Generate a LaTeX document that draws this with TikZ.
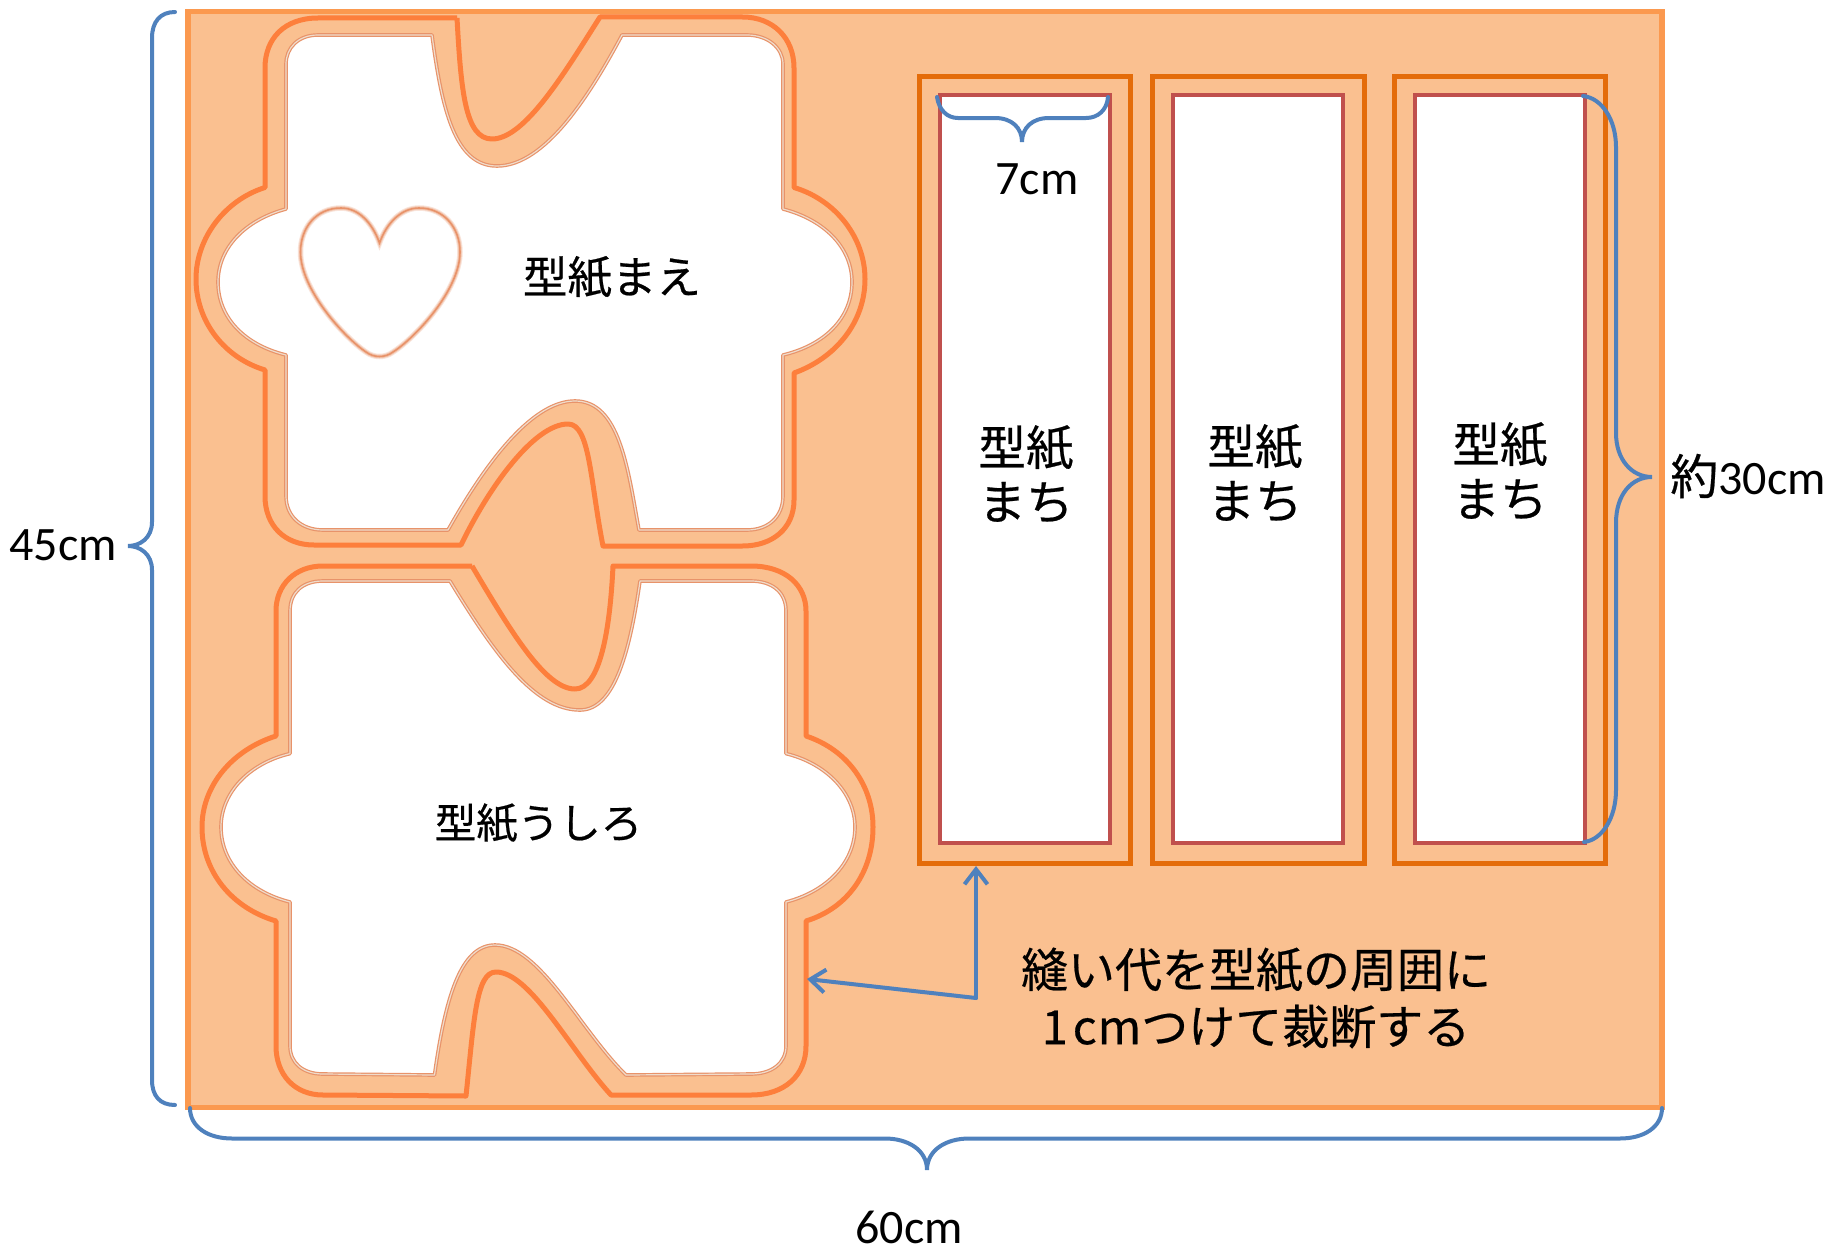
\documentclass[tikz,border=0pt]{standalone}
\usepackage{fontspec}
\setmainfont{Carlito}
\newfontfamily\jp[FakeBold=0.45]{Noto Sans CJK JP}
\usetikzlibrary{arrows.meta}
\definecolor{sheet}{HTML}{FAC090}
\definecolor{sheetline}{HTML}{FB994F}
\definecolor{cutline}{HTML}{FD7F3C}
\definecolor{darkcut}{HTML}{E46C0A}
\definecolor{pattern}{HTML}{C0504D}
\definecolor{brace}{HTML}{4F81BD}
\definecolor{softline}{HTML}{E8936A}
\definecolor{softcore}{HTML}{EFDCCB}
\tikzset{
  x=1pt,y=-1pt,
  cutpath/.style={draw=cutline,line width=5pt,line join=round},
  patpath/.style={draw=softline,line width=3.6pt,fill=white,line join=round},
  patcore/.style={draw=softcore,line width=1.2pt,line join=round},
  bracepath/.style={draw=brace,line width=4pt,line cap=round},
  callout/.style={draw=brace,line width=4pt,line cap=round,-{Straight Barb[length=15pt,width=23pt,line width=4pt]}},
  stripout/.style={draw=darkcut,line width=5pt,fill=sheet,minimum width=#1,minimum height=786pt,inner sep=0pt,outer sep=0pt,anchor=north west},
  stripin/.style={draw=pattern,line width=4pt,fill=white,minimum width=#1,minimum height=748pt,inner sep=0pt,outer sep=0pt,anchor=north west},
  lab/.style={font=\jp\fontsize{47}{47}\selectfont,inner sep=0pt,text=black},
  dim/.style={font=\fontsize{48}{48}\selectfont,inner sep=0pt,text=black},
}
\newcommand{\frontcut}{(457,18) -- (318,18) .. controls (285,18) and (265,38) .. (265,68) -- (265,187.5)
 .. controls (225,200) and (196,238) .. (196,279) .. controls (196,322) and (225,358) .. (265,370)
 -- (265,496) .. controls (265,526) and (285,545) .. (314,545) -- (461,545)
 .. controls (490,485) and (535,424) .. (568,424) .. controls (590,424) and (590,480) .. (603,546)
 -- (742.5,546) .. controls (773,546) and (794,528) .. (794,500) -- (794,373)
 .. controls (836,358) and (865,322) .. (865,279) .. controls (865,238) and (836,200) .. (794,187.5)
 -- (794,68) .. controls (794,38) and (773,17) .. (742.5,17) -- (600,17)
 .. controls (565,72) and (525,139) .. (492,139) .. controls (465,139) and (461,90) .. (457,18)}
\newcommand{\frontpat}{(432,35) -- (318,35) .. controls (298,35) and (286,48) .. (286,64) -- (286,209)
 .. controls (245,220) and (218,248) .. (218,282) .. controls (218,318) and (245,345) .. (286,355)
 -- (286,496) .. controls (286,517) and (302,530) .. (323,530) -- (448,530)
 .. controls (490,455) and (535,401) .. (575,401) .. controls (620,401) and (628,470) .. (639,530)
 -- (747,530) .. controls (768,530) and (783,517) .. (783,496) -- (783,355)
 .. controls (825,345) and (852,318) .. (852,282) .. controls (852,248) and (825,220) .. (783,209)
 -- (783,64) .. controls (783,48) and (768,35) .. (747,35) -- (622,35)
 .. controls (590,95) and (545,166) .. (497,166) .. controls (455,166) and (442,110) .. (432,35) -- cycle}
\newcommand{\backcut}{(472,566) -- (323,566) .. controls (295,566) and (276,585) .. (276,611) -- (276,736)
 .. controls (232,750) and (202,786) .. (202,827) .. controls (202,872) and (232,908) .. (276,921)
 -- (276,1046) .. controls (276,1075) and (295,1095) .. (323,1095) -- (466,1096)
 .. controls (474,1020) and (476,972) .. (496,972) .. controls (530,972) and (570,1050) .. (611,1095)
 -- (751,1095) .. controls (785,1095) and (806,1075) .. (806,1046) -- (806,921)
 .. controls (848,908) and (873,872) .. (873,827) .. controls (873,786) and (848,750) .. (806,736)
 -- (806,611) .. controls (806,585) and (785,566) .. (751,566) -- (613,566)
 .. controls (610,630) and (600,689) .. (575,689) .. controls (545,689) and (510,630) .. (472,566)}
\newcommand{\backpat}{(450,581) -- (323,581) .. controls (303,581) and (290,592) .. (290,611) -- (290,753.6)
 .. controls (250,763) and (221,792) .. (221,827) .. controls (221,864) and (250,892) .. (290,902)
 -- (290,1046) .. controls (290,1063) and (303,1074) .. (323,1074) -- (434.5,1075)
 .. controls (445,1000) and (460,945) .. (495,945) .. controls (540,945) and (580,1030) .. (626,1075)
 -- (751,1074) .. controls (772,1074) and (786,1063) .. (786,1046) -- (786,902)
 .. controls (825,892) and (855,864) .. (855,827) .. controls (855,792) and (825,763) .. (786,753.6)
 -- (786,611) .. controls (786,592) and (772,581) .. (751,581) -- (640,581)
 .. controls (630,650) and (615,710) .. (580,710) .. controls (535,710) and (495,655) .. (450,581) -- cycle}
\newcommand{\heartpath}{(379.5,243) .. controls (372,222) and (358,208) .. (341,208)
 .. controls (316,208) and (300.5,228) .. (300.5,252) .. controls (300.5,290) and (345,338) .. (366,352)
 .. controls (374,358) and (385,358) .. (393,352) .. controls (415,338) and (460,290) .. (460,252)
 .. controls (460,228) and (444,208) .. (419,208) .. controls (402,208) and (387,222) .. (379.5,243) -- cycle}
\begin{document}
\begin{tikzpicture}
\useasboundingbox (0,0) rectangle (1829,1247);
% sheet
\node[draw=sheetline,line width=5.3pt,fill=sheet,minimum width=1474pt,minimum height=1096pt,inner sep=0pt,outer sep=0pt,anchor=north west] (sheetrect) at (188,11.5) {};
% front pattern
\path[cutpath] \frontcut;
\path[patpath] \frontpat;
\path[patcore] \frontpat;
\path[draw=softline!25!white,line width=5.5pt] \heartpath;
\path[draw=softline!55!white,line width=3.5pt] \heartpath;
\path[draw=softline,line width=1.6pt] \heartpath;
% back pattern
\path[cutpath] \backcut;
\path[patpath] \backpat;
\path[patcore] \backpat;
% strips
\node[stripout=211.5pt] (out1) at (919,77) {};
\node[stripin=170pt] (in1) at (940,94.5) {};
\node[stripout=211.5pt] (out2) at (1152.5,77) {};
\node[stripin=170pt] (in2) at (1172.5,94.5) {};
\node[stripout=211.5pt] (out3) at (1394,77) {};
\node[stripin=170pt] (in3) at (1415,94.5) {};
% labels
\node[lab,font=\jp\fontsize{44.5}{44.5}\selectfont] (tfront) at (612,277) {型紙まえ};
\node[lab,font=\jp\fontsize{41.5}{41.5}\selectfont] (tback) at (538.5,823) {型紙うしろ};
\node[lab,align=center,font=\jp\fontsize{47.5}{47.5}\selectfont] (t1) at (1026,474) {型紙\\[7pt]まち};
\node[lab,align=center,font=\jp\fontsize{47.5}{47.5}\selectfont] (t2) at (1255,473) {型紙\\[7pt]まち};
\node[lab,align=center,font=\jp\fontsize{47.5}{47.5}\selectfont] (t3) at (1500,471) {型紙\\[7pt]まち};
\node[lab,align=center] (tnote) at (1256,998) {縫い代を型紙の周囲に\\[10pt]1\kern5pt c\kern1pt mつけて裁断する};
\node[dim] (t7) at (1037,179) {7cm};
\node[dim] (t45) at (63,545) {45cm};
\node[dim] (t60) at (909,1227) {60cm};
\node[dim] (t30) at (1748,476) {{\jp 約}30cm};
% braces
\draw[bracepath] (175,12) .. controls (160,12) and (152,22) .. (152,38) -- (152,522)
 .. controls (152,538) and (140,546) .. (128,546) .. controls (140,546) and (152,554) .. (152,570)
 -- (152,1080) .. controls (152,1096) and (160,1105) .. (175,1105);
\draw[bracepath] (190,1108) .. controls (190,1127) and (208,1138.5) .. (232,1138.5) -- (885,1138.5)
 .. controls (908,1138.5) and (927,1150) .. (927,1170) .. controls (927,1150) and (946,1138.5) .. (969,1138.5)
 -- (1620,1138.5) .. controls (1644,1138.5) and (1662,1127) .. (1662,1108);
\draw[bracepath] (937,97) .. controls (939,110) and (947,118) .. (958,118) -- (995,118)
 .. controls (1012,118) and (1022,128) .. (1022,142) .. controls (1022,128) and (1032,118) .. (1049,118)
 -- (1086,118) .. controls (1098,118) and (1107,110) .. (1108,97);
\draw[bracepath] (1583,96) .. controls (1602,98) and (1616,120) .. (1616,147) -- (1616,433)
 .. controls (1616,460) and (1632,477) .. (1652,477) .. controls (1632,477) and (1616,494) .. (1616,523)
 -- (1616,790) .. controls (1616,818) and (1602,840) .. (1584,842);
% callouts
\coordinate (junction) at (976,998);
\coordinate (tipup) at (976,866);
\coordinate (tipleft) at (807,979);
\draw[callout] (junction) -- (tipup);
\draw[callout] (junction) -- (tipleft);
\end{tikzpicture}
\end{document}
